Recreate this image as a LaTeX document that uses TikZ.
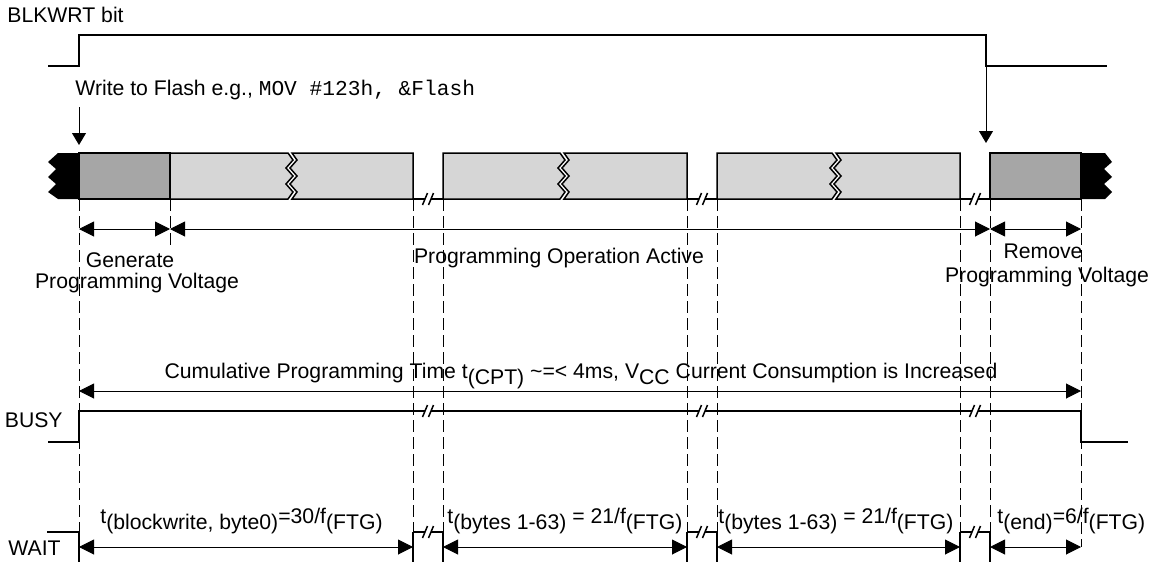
\documentclass[tikz,border=0pt]{standalone}
\usepackage{fontspec}
\setmainfont{Liberation Sans}
\setmonofont{Liberation Mono}
\usetikzlibrary{arrows.meta}
\definecolor{darkfill}{HTML}{A6A6A6}
\definecolor{lightfill}{HTML}{D6D6D6}
\newcommand\mysub[1]{\raisebox{-3pt}{#1}}
\newcommand\gapmark[3]{%
  \pgfmathsetmacro\gc{(#1+#2)/2}%
  \draw[blk] (#1,#3) -- (\gc-3,#3);
  \draw[blk] (\gc+3,#3) -- (#2,#3);
  \draw[blk] (\gc-5.5,#3+6) -- (\gc-0.5,#3-6);
  \draw[blk] (\gc+0.5,#3+6) -- (\gc+5.5,#3-6);
}
\newcommand\lightblock[3]{% left, break, right
  \filldraw[blk,fill=lightfill] (#1,153) -- (#2,153) -- (#2+5,160) -- (#2-2,168) -- (#2+5,176) -- (#2-2,184) -- (#2+5,192) -- (#2,199) -- (#1,199) -- cycle;
  \filldraw[blk,fill=lightfill] (#2+4,153) -- (#3,153) -- (#3,199) -- (#2+4,199) -- (#2+9,192) -- (#2+2,184) -- (#2+9,176) -- (#2+2,168) -- (#2+9,160) -- cycle;
}
\begin{document}
\begin{tikzpicture}[x=0.5pt,y=-0.5pt,font=\fontsize{10.6}{12.5}\selectfont,
  sig/.style={line width=1pt,line join=miter},
  blk/.style={line width=0.75pt,line join=miter},
  hair/.style={line width=0.5pt},
  guide/.style={line width=0.5pt,dash pattern=on 6pt off 2.5pt},
  dim/.style={line width=0.5pt,{Triangle[length=7.5pt,width=7.5pt]}-{Triangle[length=7.5pt,width=7.5pt]}},
  down/.style={line width=0.5pt,-{Triangle[length=6pt,width=7pt]}},
  lbl/.style={inner sep=0pt,anchor=base}]
\useasboundingbox (0,0) rectangle (1153,562);

% coordinates
\foreach \n/\x in {a/79,b/170,c/413,d/443,e/687,f/717,g/960,h/990,i/1081}{
  \coordinate (\n0) at (\x,199);
  \coordinate (\n1) at (\x,229);
  \coordinate (\n2) at (\x,391);
  \coordinate (\n3) at (\x,547);
  \coordinate (\n4) at (\x,532);
}
\coordinate (b5) at (170,248);
\coordinate (i5) at (1081,547);

% BLKWRT signal
\node[lbl,anchor=base west] (blkwrt) at (7,22) {BLKWRT bit};
\draw[sig] (48,66) -- (79,66) -- (79,35) -- (986,35) -- (986,66) -- (1107,66);
\node[lbl,anchor=base west] (write) at (75,95) {Write to Flash e.g., \texttt{MOV \#123h, \&Flash}};

\coordinate (w0) at (79,107);
\coordinate (w1) at (79,145);
\coordinate (r0) at (986,66);
\coordinate (r1) at (986,143);
\draw[down] (w0) -- (w1);
\draw[down] (r0) -- (r1);

% block row
\fill[black] (79,153) -- (58,153) -- (48,162) -- (56,169) -- (48,177) -- (56,184) -- (48,192) -- (58,199) -- (79,199) -- cycle;
\fill[black] (1081,153) -- (1105,153) -- (1112,162) -- (1104,169) -- (1112,177) -- (1104,184) -- (1112,192) -- (1105,199) -- (1081,199) -- cycle;
\filldraw[blk,fill=darkfill] (79,153) rectangle (170,199);
\filldraw[blk,fill=darkfill] (990,153) rectangle (1081,199);
\lightblock{170}{288}{413}
\lightblock{443}{560}{687}
\lightblock{717}{832}{960}
\gapmark{413}{443}{199}
\gapmark{687}{717}{199}
\gapmark{960}{990}{199}

% guide lines
\draw[guide] (a0) -- (a4);
\draw[guide] (b0) -- (b5);
\foreach \n in {c,d,e,f,g,h}{\draw[guide] (\n0) -- (\n4);}
\draw[guide] (i0) -- (i5);

% phase arrows
\draw[dim] (a1) -- (b1);
\draw[dim] (b1) -- (h1);
\draw[dim] (h1) -- (i1);
\node[lbl] (gen1) at (130,267) {Generate};
\node[lbl] (gen2) at (137,288) {Programming Voltage};
\node[lbl] (active) at (559,263) {Programming Operation Active};
\node[lbl] (rem1) at (1043,258) {Remove};
\node[lbl] (rem2) at (1047,282) {Programming Voltage};

% cumulative
\draw[dim] (a2) -- (i2);
\node[lbl] (cpt) at (581,378) {Cumulative Programming Time t\mysub{(CPT)} \textasciitilde=< 4ms, V\mysub{CC} Current Consumption is Increased};

% BUSY
\node[lbl,anchor=base east] (busy) at (63,427) {BUSY};
\draw[sig] (48,442) -- (79,442) -- (79,411) -- (413,411);
\gapmark{413}{443}{411}
\draw[sig] (443,411) -- (687,411);
\gapmark{687}{717}{411}
\draw[sig] (717,411) -- (960,411);
\gapmark{960}{990}{411}
\draw[sig] (990,411) -- (1081,411) -- (1081,442) -- (1128,442);

% WAIT
\node[lbl,anchor=base east] (wait) at (61,555) {WAIT};
\draw[sig] (47,532) -- (79,532) -- (79,566);
\draw[sig] (413,566) -- (413,532);
\gapmark{413}{443}{532}
\draw[sig] (443,532) -- (443,566);
\draw[sig] (687,566) -- (687,532);
\gapmark{687}{717}{532}
\draw[sig] (717,532) -- (717,566);
\draw[sig] (960,566) -- (960,532);
\gapmark{960}{990}{532}
\draw[sig] (990,532) -- (990,566);

\draw[dim] (a3) -- (c3);
\draw[dim] (d3) -- (e3);
\draw[dim] (f3) -- (g3);
\draw[dim] (h3) -- (i3);
\node[lbl,anchor=base west] (t1) at (100,523) {t\mysub{(blockwrite, byte0)}=30/f\mysub{(FTG)}};
\node[lbl,anchor=base west] (t2) at (447,523) {t\mysub{(bytes 1-63)} = 21/f\mysub{(FTG)}};
\node[lbl,anchor=base west] (t3) at (718,523) {t\mysub{(bytes 1-63)} = 21/f\mysub{(FTG)}};
\node[lbl,anchor=base west] (t4) at (997,523) {t\mysub{(end)}=6/f\mysub{(FTG)}};
\end{tikzpicture}
\end{document}
